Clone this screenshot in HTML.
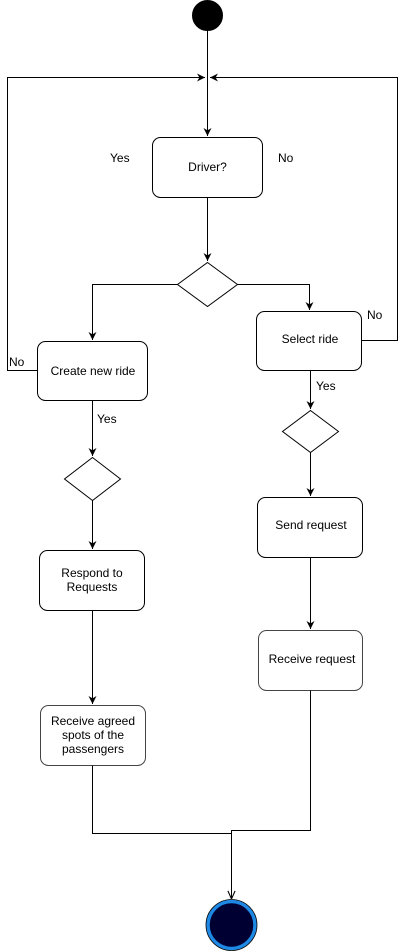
<!DOCTYPE html>
<html><head><meta charset="utf-8"><style>
html,body{margin:0;padding:0;background:#fff;}
svg{display:block;}
text{font-family:"Liberation Sans",Arial,sans-serif;font-size:12px;fill:#000;}
</style></head><body>
<svg width="406" height="951" viewBox="0 0 406 951" xmlns="http://www.w3.org/2000/svg">
<defs>
<marker id="a" viewBox="0 0 10 10" refX="10" refY="5" markerWidth="8" markerHeight="8" markerUnits="userSpaceOnUse" orient="auto">
<path d="M0,0 L10,5 L0,10 L3,5 Z" fill="#000"/>
</marker>
<marker id="o" viewBox="0 0 10 10" refX="10" refY="5" markerWidth="9" markerHeight="9" markerUnits="userSpaceOnUse" orient="auto">
<path d="M1,1 L10,5 L1,9" fill="none" stroke="#000" stroke-width="1.2"/>
</marker>
</defs>
<g fill="none" stroke="#000" stroke-width="1">
<circle cx="207.5" cy="15.5" r="15" fill="#000"/>
<path d="M207.5,30 V136" marker-end="url(#a)"/>
<path d="M37,370.5 H7.5 V77.5 H205" marker-end="url(#a)"/>
<path d="M361,340.5 H397.5 V77.5 H210" marker-end="url(#a)"/>
<rect x="152.5" y="137.5" width="110" height="60" rx="8" fill="#fff"/>
<path d="M207.5,197.5 V261" marker-end="url(#a)"/>
<path d="M207.5,262.5 L237.5,284.5 L207.5,306.5 L177.5,284.5 Z" fill="#fff"/>
<path d="M177.5,284.5 H92.5 V340" marker-end="url(#a)"/>
<path d="M237.5,284.5 H309.5 V310" marker-end="url(#a)"/>
<rect x="37.5" y="341.5" width="110" height="59" rx="8" fill="#fff"/>
<rect x="256.5" y="311.5" width="105" height="59" rx="8" fill="#fff"/>
<path d="M310.5,370.5 V409" marker-end="url(#a)"/>
<path d="M310.5,410.5 L338.5,431.5 L310.5,452.5 L282.5,431.5 Z" fill="#fff"/>
<path d="M310.5,452.5 V496" marker-end="url(#a)"/>
<path d="M92.5,400.5 V456" marker-end="url(#a)"/>
<path d="M92.5,457.5 L120.5,479 L92.5,500.5 L64.5,479 Z" fill="#fff"/>
<path d="M92.5,500.5 V549" marker-end="url(#a)"/>
<rect x="39.5" y="550.5" width="105" height="60" rx="8" fill="#fff"/>
<path d="M92.5,610.5 V704" marker-end="url(#a)"/>
<rect x="40.5" y="705.5" width="105" height="60" rx="8" fill="#fff" stroke="#444"/>
<rect x="257.5" y="497.5" width="105" height="60" rx="8" fill="#fff"/>
<path d="M310.5,557.5 V629" marker-end="url(#a)"/>
<rect x="258.5" y="630.5" width="104" height="60" rx="8" fill="#fff" stroke="#444"/>
<path d="M92.5,765.5 V833.5 H231.5"/>
<path d="M310.5,690.5 V830.5 H231.5 V899" marker-end="url(#o)"/>
<circle cx="231.5" cy="925" r="23.5" fill="#000033" stroke="#1e88e5" stroke-width="3.5"/>
<circle cx="231.5" cy="925" r="25.5" stroke="#000" stroke-width="0.8"/>
</g>
<g text-anchor="middle">
<text x="207.5" y="171">Driver?</text>
<text x="93" y="375">Create new ride</text>
<text x="310" y="343">Select ride</text>
<text x="92" y="577">Respond to</text>
<text x="92" y="591">Requests</text>
<text x="93" y="725">Receive agreed</text>
<text x="93" y="739">spots of the</text>
<text x="93" y="753">passengers</text>
<text x="311" y="529">Send request</text>
<text x="312" y="663">Receive request</text>
</g>
<text x="110" y="162">Yes</text>
<text x="278" y="162">No</text>
<text x="367" y="319">No</text>
<text x="9" y="366">No</text>
<text x="316" y="390">Yes</text>
<text x="97" y="423">Yes</text>
</svg>
</body></html>
